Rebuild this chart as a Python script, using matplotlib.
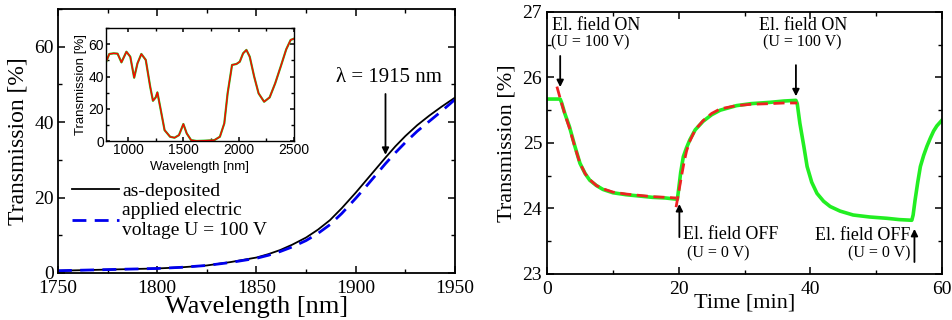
import matplotlib
matplotlib.use("Agg")
import matplotlib.pyplot as plt
from matplotlib.ticker import MultipleLocator

plt.rcParams['font.family'] = ['Liberation Serif', 'DejaVu Serif']

# left panel: transmission spectrum near 1915 nm
wl = [1750, 1775, 1800, 1812, 1825, 1837, 1850, 1856, 1862, 1868, 1875, 1881, 1887, 1893,
      1900, 1905, 1910, 1915, 1920, 1925, 1931, 1937, 1943, 1950]
t_dep = [0.6, 0.9, 1.2, 1.5, 2.0, 2.9, 4.1, 5.0, 6.1, 7.5, 9.4, 11.5, 14.0, 17.2,
         21.3, 24.4, 27.5, 30.6, 33.6, 36.3, 39.2, 41.7, 44.0, 46.5]
t_vol = [0.6, 0.9, 1.2, 1.5, 2.0, 2.8, 3.9, 4.7, 5.7, 6.9, 8.6, 10.5, 12.8, 15.8,
         19.8, 22.8, 25.9, 29.0, 31.9, 34.6, 37.6, 40.2, 42.8, 46.0]

# inset: full spectrum
wl_in = [800, 830, 870, 905, 940, 985, 1020, 1055, 1085, 1120, 1160, 1200, 1225, 1250,
         1265, 1290, 1330, 1380, 1420, 1460, 1500, 1530, 1570, 1620, 1700, 1780, 1830,
         1870, 1900, 1940, 1980, 2010, 2040, 2070, 2100, 2140, 2180, 2230, 2280, 2330,
         2380, 2430, 2470, 2500]
t_in = [48.8, 54.0, 54.4, 54.2, 48.8, 55.4, 52.3, 39.3, 48.2, 54.0, 50.3, 33.7, 25.0, 27.1,
        30.2, 21.3, 6.8, 2.7, 2.1, 3.7, 10.6, 4.8, 0.6, 0.1, 0.3, 0.6, 2.7,
        11.0, 29.6, 47.2, 47.8, 49.2, 54.4, 56.5, 52.3, 40.0, 29.6, 24.4, 27.1, 35.8,
        46.2, 56.9, 62.7, 63.5]

# right panel: switching kinetics
time_m = [0, 1.0, 2.0, 2.2, 2.7, 3.4, 4.2, 5.0, 5.8, 6.5, 7.5, 8.5, 10, 12, 14, 16, 18, 19.8,
          20.0, 20.3, 20.7, 21.2, 21.7, 22.5, 23.7, 25, 26.3, 28.8, 31, 33.9, 36, 37.8,
          38.0, 38.4, 39.0, 39.5, 40.2, 41.0, 42.0, 43.0, 44.5, 46.5, 49, 51.6, 53.5, 55.4,
          55.6, 55.9, 56.3, 56.7, 57.2, 57.7, 58.2, 58.7, 59.2, 60]
t_meas = [25.67, 25.67, 25.67, 25.62, 25.45, 25.25, 24.96, 24.69, 24.53, 24.43, 24.35, 24.29, 24.24, 24.21, 24.19, 24.17, 24.16, 24.14,
          24.30, 24.55, 24.79, 24.93, 25.05, 25.20, 25.33, 25.43, 25.50, 25.57, 25.60, 25.62, 25.64, 25.65,
          25.60, 25.30, 24.95, 24.64, 24.40, 24.23, 24.11, 24.03, 23.96, 23.90, 23.87, 23.85, 23.83, 23.82,
          23.90, 24.13, 24.40, 24.64, 24.81, 24.95, 25.07, 25.18, 25.26, 25.35]
t_fit1 = [1.5, 2.0, 2.7, 3.4, 4.2, 5.0, 5.8, 6.5, 7.5, 8.5, 10, 12, 14, 16, 18, 19.6]
v_fit1 = [25.86, 25.68, 25.44, 25.23, 24.95, 24.69, 24.53, 24.44, 24.35, 24.30, 24.25, 24.22, 24.20, 24.18, 24.17, 24.16]
t_fit2 = [19.6, 20.0, 20.4, 20.8, 21.2, 21.7, 22.5, 23.7, 25, 26.3, 28.8, 31, 33.9, 36, 38.0]
v_fit2 = [24.02, 24.25, 24.48, 24.70, 24.88, 25.03, 25.20, 25.34, 25.45, 25.52, 25.57, 25.59, 25.60, 25.61, 25.61]

fig = plt.figure(figsize=(9.52, 3.2), dpi=100)

def style(ax, lw=1.3):
    for s in ax.spines.values():
        s.set_linewidth(lw)
    ax.tick_params(which='both', direction='in', top=True, right=True)
    ax.tick_params(which='major', length=5, width=1.1)
    ax.tick_params(which='minor', length=3, width=1.0)

ax1 = fig.add_axes([0.0609, 0.1469, 0.417, 0.825])
ax1.plot(wl, t_dep, color='black', lw=1.3, label='as-deposited')
ax1.plot(wl, t_vol, color='#0000ee', lw=2.0, ls=(0, (5, 3)), label='applied electric\nvoltage U = 100 V')
ax1.set_xlim(1750, 1950)
ax1.set_ylim(0, 70)
ax1.xaxis.set_major_locator(MultipleLocator(50))
ax1.xaxis.set_minor_locator(MultipleLocator(25))
ax1.yaxis.set_major_locator(MultipleLocator(20))
ax1.yaxis.set_minor_locator(MultipleLocator(10))
style(ax1)
ax1.tick_params(labelsize=14)
ax1.tick_params(axis='x', pad=5)
ax1.tick_params(axis='y', pad=3)
ax1.set_xlabel('Wavelength [nm]', fontsize=19, labelpad=-1)
ax1.set_ylabel('Transmission [%]', fontsize=17, labelpad=4)
ax1.annotate('', xy=(1915, 30.6), xytext=(1915, 48.2),
             arrowprops=dict(arrowstyle='-|>', color='black', lw=1.3, mutation_scale=10))
ax1.text(1916.5, 51.8, 'λ = 1915 nm', fontsize=15, ha='center', va='center')
ax1.legend(loc='upper left', bbox_to_anchor=(0.035, 0.345), frameon=False, fontsize=14,
           handlelength=2.4, handletextpad=0.2, borderpad=0, borderaxespad=0, labelspacing=0.15)

ax_in = fig.add_axes([0.1113, 0.559, 0.1975, 0.353])
ax_in.plot(wl_in, t_in, color='#22cc22', lw=1.6)
ax_in.plot(wl_in, t_in, color='red', lw=1.0)
ax_in.set_xlim(800, 2500)
ax_in.set_ylim(0, 70)
ax_in.xaxis.set_major_locator(MultipleLocator(500))
ax_in.xaxis.set_minor_locator(MultipleLocator(250))
ax_in.yaxis.set_major_locator(MultipleLocator(20))
ax_in.yaxis.set_minor_locator(MultipleLocator(10))
style(ax_in, lw=1.0)
ax_in.tick_params(which='major', length=3)
ax_in.tick_params(which='minor', length=2)
for lab in ax_in.get_xticklabels() + ax_in.get_yticklabels():
    lab.set_family('Liberation Sans')
ax_in.tick_params(labelsize=10, pad=1.5)
ax_in.set_xlabel('Wavelength [nm]', fontsize=9.5, family='Liberation Sans', labelpad=3)
ax_in.set_ylabel('Transmission [%]', fontsize=9.5, family='Liberation Sans', labelpad=1)

ax2 = fig.add_axes([0.5746, 0.1438, 0.415, 0.819])
ax2.plot(time_m, t_meas, color='#22ee22', lw=2.6)
ax2.plot(t_fit1, v_fit1, color='#ee2222', lw=2.0, ls=(0, (4, 2)))
ax2.plot(t_fit2, v_fit2, color='#ee2222', lw=2.0, ls=(0, (4, 2)))
ax2.set_xlim(0, 60)
ax2.set_ylim(23, 27)
ax2.xaxis.set_major_locator(MultipleLocator(20))
ax2.xaxis.set_minor_locator(MultipleLocator(10))
ax2.yaxis.set_major_locator(MultipleLocator(1))
ax2.yaxis.set_minor_locator(MultipleLocator(0.5))
style(ax2)
ax2.tick_params(labelsize=14)
ax2.tick_params(axis='x', pad=5)
ax2.set_xlabel('Time [min]', fontsize=16, labelpad=-3)
ax2.set_ylabel('Transmission [%]', fontsize=16, labelpad=4)

arr = dict(arrowstyle='-|>', color='black', lw=1.3, mutation_scale=10)
ax2.annotate('', xy=(2.0, 25.81), xytext=(2.0, 26.37), arrowprops=arr)
ax2.annotate('', xy=(20.1, 24.11), xytext=(20.1, 23.52), arrowprops=arr)
ax2.annotate('', xy=(37.8, 25.67), xytext=(37.8, 26.23), arrowprops=arr)
ax2.annotate('', xy=(55.8, 23.73), xytext=(55.8, 23.14), arrowprops=arr)
ax2.text(0.8, 26.79, 'El. field ON', fontsize=13, ha='left', va='center')
ax2.text(6.6, 26.53, '(U = 100 V)', fontsize=11.5, ha='center', va='center')
ax2.text(38.9, 26.79, 'El. field ON', fontsize=13, ha='center', va='center')
ax2.text(38.7, 26.53, '(U = 100 V)', fontsize=11.5, ha='center', va='center')
ax2.text(20.7, 23.6, 'El. field OFF', fontsize=13, ha='left', va='center')
ax2.text(26.0, 23.31, '(U = 0 V)', fontsize=11.5, ha='center', va='center')
ax2.text(55.2, 23.59, 'El. field OFF', fontsize=13, ha='right', va='center')
ax2.text(50.5, 23.31, '(U = 0 V)', fontsize=11.5, ha='center', va='center')

fig.savefig('out.png', dpi=100)
